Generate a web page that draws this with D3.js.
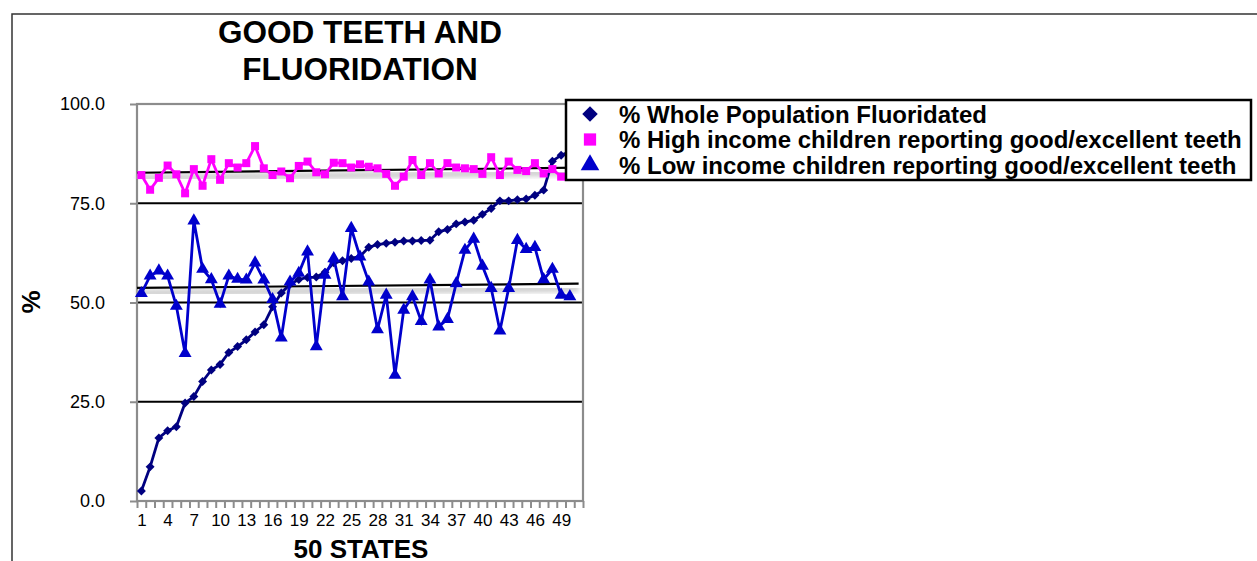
<!DOCTYPE html>
<html>
<head>
<meta charset="utf-8">
<script src="https://cdn.jsdelivr.net/npm/d3@7"></script>
<style>
  body { margin: 0; background: #fff; overflow: hidden; }
  text { font-family: "Liberation Sans", Arial, sans-serif; }
</style>
</head>
<body>
<svg id="chart" width="1257" height="561"></svg>
<script>
// values, one per state (states are sorted by fluoridation)
var states = d3.range(1, 51);
var xTickLabels = [1, 4, 7, 10, 13, 16, 19, 22, 25, 28, 31, 34, 37, 40, 43, 46, 49];
var yTicks = [0, 25, 50, 75, 100];

var fluoridated = [2.5, 8.6, 15.9, 17.7, 18.7, 24.7, 26.3, 30.1, 33.0, 34.4,
  37.4, 38.9, 40.6, 42.6, 44.4, 48.9, 52.4, 54.6, 55.8, 56.3,
  56.4, 57.6, 60.0, 60.5, 61.1, 61.6, 63.9, 64.6, 64.9, 65.2,
  65.5, 65.5, 65.6, 65.7, 67.8, 68.4, 69.8, 70.3, 70.7, 72.2,
  73.7, 75.6, 75.6, 75.9, 76.1, 77.0, 78.3, 85.6, 87.1, 88.0];

var highIncome = [82.1, 78.4, 81.4, 84.5, 82.3, 77.5, 83.6, 79.4, 86.1, 80.9,
  85.1, 84.0, 85.1, 89.4, 83.8, 82.1, 83.0, 81.3, 84.4, 85.5,
  82.8, 82.3, 85.2, 85.1, 84.0, 84.8, 84.2, 83.8, 82.4, 79.4,
  81.7, 85.9, 82.1, 85.1, 82.5, 85.1, 84.0, 83.8, 83.6, 82.4,
  86.6, 82.1, 85.5, 83.4, 83.1, 85.1, 82.5, 83.6, 81.7, 82.0];

var lowIncome = [52.3, 56.7, 58.0, 56.7, 49.1, 37.2, 70.6, 58.4, 55.8, 49.6,
  56.7, 55.9, 55.7, 60.0, 55.7, 50.8, 41.1, 55.2, 57.4, 62.8,
  38.9, 56.9, 61.1, 51.5, 68.7, 61.5, 55.2, 43.2, 51.9, 31.7,
  48.1, 51.5, 45.3, 55.7, 43.9, 45.8, 54.8, 63.2, 66.0, 59.2,
  53.6, 42.9, 53.6, 65.7, 63.4, 63.9, 55.8, 58.4, 51.9, 51.5];

var seriesNames = [
  "% Whole Population Fluoridated",
  "% High income children reporting good/excellent teeth",
  "% Low income children reporting good/excellent teeth"
];

var svg = d3.select("#chart");

// 51 category slots (last one empty), 50 states
var x = d3.scaleLinear().domain([0.5, 51.5]).range([137, 583]);
var y = d3.scaleLinear().domain([0, 100]).range([501, 104]);

// outer frame
svg.append("path")
  .attr("d", "M12,561 L12,14 L1257,14")
  .attr("fill", "none").attr("stroke", "#333").attr("stroke-width", 1.5);

// title
svg.append("text").attr("x", 360).attr("y", 43).attr("text-anchor", "middle")
  .attr("font-size", 31.5).attr("font-weight", "bold").text("GOOD TEETH AND");
svg.append("text").attr("x", 360).attr("y", 80).attr("text-anchor", "middle")
  .attr("font-size", 31.5).attr("font-weight", "bold").text("FLUORIDATION");

// gridlines
svg.append("g").selectAll("line").data(yTicks.filter(function(d) { return d > 0 && d < 100; }))
  .enter().append("line")
  .attr("x1", x(0.5)).attr("x2", x(51.5))
  .attr("y1", function(d) { return y(d); }).attr("y2", function(d) { return y(d); })
  .attr("stroke", "#000").attr("stroke-width", 2.2);

// plot frame (gray)
svg.append("rect")
  .attr("x", x(0.5)).attr("y", y(100))
  .attr("width", x(51.5) - x(0.5)).attr("height", y(0) - y(100))
  .attr("fill", "none").attr("stroke", "#8c8c8c").attr("stroke-width", 2.2);

// y axis
var yAxis = d3.axisLeft(y).tickValues(yTicks).tickSize(7).tickPadding(25)
  .tickFormat(d3.format(".1f"));
var gy = svg.append("g").attr("transform", "translate(" + x(0.5) + ",0)").call(yAxis);
gy.select(".domain").remove();
gy.selectAll("line").attr("stroke", "#8c8c8c").attr("stroke-width", 2);
gy.selectAll("text").attr("font-size", 18).attr("fill", "#000")
  .attr("font-family", "Liberation Sans, Arial, sans-serif");

// x axis: tick marks on slot boundaries, labels every 3rd state
var gx = svg.append("g").attr("transform", "translate(0," + y(0) + ")");
gx.call(d3.axisBottom(x).tickValues(d3.range(0.5, 52, 1)).tickSize(7).tickFormat(""));
gx.select(".domain").remove();
gx.selectAll("line").attr("stroke", "#8c8c8c").attr("stroke-width", 2);
var gxl = svg.append("g").attr("transform", "translate(0," + y(0) + ")");
gxl.call(d3.axisBottom(x).tickValues(xTickLabels).tickSize(0).tickPadding(13));
gxl.select(".domain").remove();
gxl.selectAll("text").attr("font-size", 17).attr("fill", "#000")
  .attr("font-family", "Liberation Sans, Arial, sans-serif");

// axis titles
svg.append("text").attr("transform", "translate(40,302) rotate(-90)")
  .attr("text-anchor", "middle").attr("font-size", 26).attr("font-weight", "bold").text("%");
svg.append("text").attr("x", 361).attr("y", 558).attr("text-anchor", "middle")
  .attr("font-size", 26).attr("font-weight", "bold").text("50 STATES");

// linear trend lines for the two survey series
function trend(values) {
  var mx = d3.mean(states), my = d3.mean(values);
  var sxy = d3.sum(states, function(s, i) { return (s - mx) * (values[i] - my); });
  var sxx = d3.sum(states, function(s) { return (s - mx) * (s - mx); });
  var b = sxy / sxx, a = my - b * mx;
  return [[0.5, a + b * 0.5], [51, a + b * 51]];
}
var tline = d3.line().x(function(d) { return x(d[0]); }).y(function(d) { return y(d[1]); });
var defs = svg.append("defs");
defs.append("filter").attr("id", "blur").append("feGaussianBlur").attr("stdDeviation", 2);
[highIncome, lowIncome].forEach(function(vals) {
  var t = trend(vals);
  svg.append("path").attr("d", tline(t)).attr("transform", "translate(0,5)")
    .attr("fill", "none").attr("stroke", "#d2d2d2").attr("stroke-width", 7)
    .attr("filter", "url(#blur)");
  svg.append("path").attr("d", tline(t))
    .attr("fill", "none").attr("stroke", "#000").attr("stroke-width", 2.2);
});

// series
var line = d3.line().x(function(d, i) { return x(states[i]); }).y(function(d) { return y(d); });
var series = [
  { values: fluoridated, color: "#000080", symbol: d3.symbolSquare, size: 40, rot: 45, legendSize: 120 },
  { values: highIncome, color: "#ff00ff", symbol: d3.symbolSquare, size: 64, rot: 0, legendSize: 150 },
  { values: lowIncome, color: "#0000cc", symbol: d3.symbolTriangle, size: 72, rot: 0, legendSize: 150 }
];
series.forEach(function(s) {
  svg.append("path").attr("d", line(s.values))
    .attr("fill", "none").attr("stroke", s.color).attr("stroke-width", 2.8);
  svg.append("g").selectAll("path").data(s.values).enter().append("path")
    .attr("d", d3.symbol().type(s.symbol).size(s.size))
    .attr("transform", function(d, i) {
      return "translate(" + x(states[i]) + "," + y(d) + ") rotate(" + s.rot + ")";
    })
    .attr("fill", s.color);
});

// legend
var legend = svg.append("g");
legend.append("rect").attr("x", 566).attr("y", 100).attr("width", 685).attr("height", 80)
  .attr("fill", "#fff").attr("stroke", "#000").attr("stroke-width", 2.5);
var items = legend.selectAll("g.item").data(series).enter().append("g")
  .attr("transform", function(d, i) { return "translate(590," + (114 + i * 25.5) + ")"; });
items.append("path")
  .attr("d", function(d) { return d3.symbol().type(d.symbol).size(d.legendSize)(); })
  .attr("transform", function(d) { return "rotate(" + d.rot + ")"; })
  .attr("fill", function(d) { return d.color; });
items.append("text").attr("x", 29).attr("y", 8.5).attr("font-size", 24).attr("font-weight", "bold")
  .text(function(d, i) { return seriesNames[i]; });
</script>
</body>
</html>
